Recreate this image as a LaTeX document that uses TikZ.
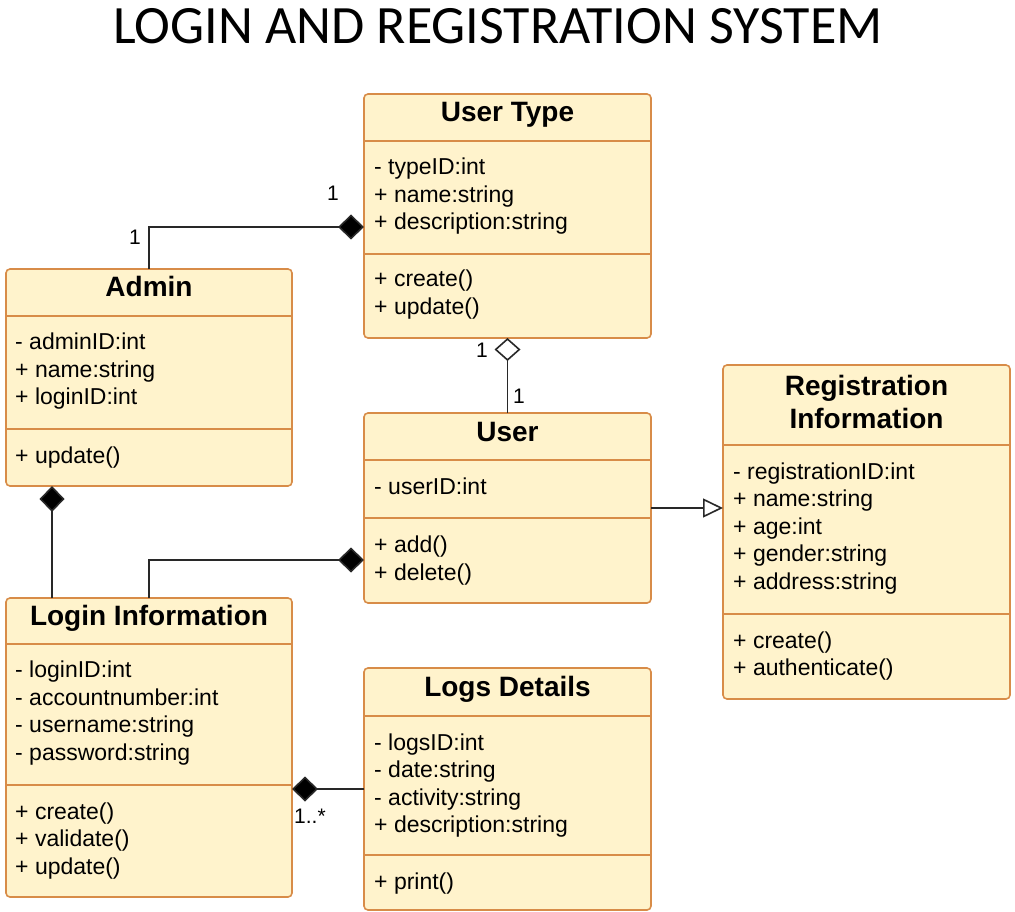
\documentclass[tikz,border=0pt]{standalone}
\usepackage{fontspec}
\setmainfont{Liberation Sans}
\newfontfamily\titlefont{Carlito}
\usetikzlibrary{arrows.meta}
\definecolor{clsfill}{RGB}{255,243,204}
\definecolor{clsdraw}{RGB}{216,140,72}
\definecolor{conn}{RGB}{40,40,40}
\begin{document}
\begin{tikzpicture}[x=1pt,y=-1pt,
  cls/.style={draw=clsdraw, fill=clsfill, line width=1.6pt, rounded corners=4pt, inner sep=0pt, outer sep=0pt, anchor=north west},
  divline/.style={draw=clsdraw, line width=1.6pt},
  hdr/.style={font=\fontsize{28}{32}\selectfont\bfseries, anchor=base, inner sep=0pt},
  attr/.style={font=\fontsize{23}{27}\selectfont, anchor=base west, inner sep=0pt},
  mult/.style={font=\fontsize{21}{25}\selectfont, anchor=base, inner sep=0pt},
  link/.style={draw=conn, line width=1.6pt},
  filldia/.style={-{Diamond[length=26pt,width=25pt,fill=black]}},
  hollowdia/.style={-{Diamond[length=23pt,width=26pt,fill=white]}},
  opentri/.style={-{Triangle[length=20pt,width=19pt,fill=white]}},
  ttl/.style={font=\titlefont\fontsize{54}{60}\selectfont, anchor=base, inner sep=0pt}
]
\useasboundingbox[fill=white] (0,0) rectangle (1015,912);

\node[ttl] (title) at (498,44) {LOGIN AND REGISTRATION SYSTEM};

% ---------- User Type ----------
\node[cls, minimum width=287pt, minimum height=244pt] (ut) at (364,94) {};
\draw[divline] (364,141) -- (651,141);
\draw[divline] (364,254) -- (651,254);
\node[hdr] (uth) at (507.5,122) {User Type};
\foreach \t [count=\i] in {- typeID:int, + name:string, + description:string}
  \node[attr] (uta\i) at (374,147.5+27.5*\i) {\t};
\foreach \t [count=\i] in {+ create(), + update()}
  \node[attr] (utm\i) at (374,260+27*\i) {\t};

% ---------- Admin ----------
\node[cls, minimum width=286pt, minimum height=217pt] (adm) at (6,269) {};
\draw[divline] (6,316) -- (292,316);
\draw[divline] (6,429) -- (292,429);
\node[hdr] (admh) at (149,297) {Admin};
\foreach \t [count=\i] in {- adminID:int, + name:string, + loginID:int}
  \node[attr] (adma\i) at (15,322+27.5*\i) {\t};
\node[attr] (admm1) at (15,463) {+ update()};

% ---------- User ----------
\node[cls, minimum width=287pt, minimum height=190pt] (usr) at (364,413) {};
\draw[divline] (364,460) -- (651,460);
\draw[divline] (364,518) -- (651,518);
\node[hdr] (usrh) at (507.5,441) {User};
\node[attr] (usra1) at (374,494) {- userID:int};
\foreach \t [count=\i] in {+ add(), + delete()}
  \node[attr] (usrm\i) at (374,525+27.5*\i) {\t};

% ---------- Registration Information ----------
\node[cls, minimum width=287pt, minimum height=334pt] (reg) at (723,365) {};
\draw[divline] (723,445) -- (1010,445);
\draw[divline] (723,614) -- (1010,614);
\node[hdr] (regh1) at (866.5,395) {Registration};
\node[hdr] (regh2) at (866.5,428) {Information};
\foreach \t [count=\i] in {- registrationID:int, + name:string, + age:int, + gender:string, + address:string}
  \node[attr] (rega\i) at (733,451.5+27.5*\i) {\t};
\foreach \t [count=\i] in {+ create(), + authenticate()}
  \node[attr] (regm\i) at (733,620.5+27.5*\i) {\t};

% ---------- Login Information ----------
\node[cls, minimum width=286pt, minimum height=299pt] (lg) at (6,598) {};
\draw[divline] (6,644) -- (292,644);
\draw[divline] (6,785) -- (292,785);
\node[hdr] (lgh) at (149,625) {Login Information};
\foreach \t [count=\i] in {- loginID:int, - accountnumber:int, - username:string, - password:string}
  \node[attr] (lga\i) at (15,650+27.5*\i) {\t};
\foreach \t [count=\i] in {+ create(), + validate(), + update()}
  \node[attr] (lgm\i) at (15,791.5+27.5*\i) {\t};

% ---------- Logs Details ----------
\node[cls, minimum width=287pt, minimum height=242pt] (lgd) at (364,668) {};
\draw[divline] (364,716) -- (651,716);
\draw[divline] (364,855) -- (651,855);
\node[hdr] (lgdh) at (507.5,696) {Logs Details};
\foreach \t [count=\i] in {- logsID:int, - date:string, - activity:string, + description:string}
  \node[attr] (lgda\i) at (374,722.5+27.5*\i) {\t};
\node[attr] (lgdm1) at (374,889) {+ print()};

% ---------- Connectors ----------
\draw[link, filldia] (adm.north) |- ([yshift=-11pt]ut.west);
\draw[link, hollowdia] (usr.north) -- (ut.south);
\draw[link, filldia] ([xshift=-97pt]lg.north) -- ([xshift=-97pt]adm.south);
\draw[link, filldia] (lg.north) |- ([yshift=-52pt]usr.west);
\draw[link, opentri] (usr.east) -- (reg.west |- usr.east);
\draw[link, filldia] (lgd.west) -- (lg.east |- lgd.west);

% ---------- Multiplicities ----------
\node[mult] (m1) at (135,244) {1};
\node[mult] (m2) at (333,201) {1};
\node[mult] (m3) at (482,357) {1};
\node[mult] (m4) at (519,403) {1};
\node[mult, anchor=base west] (m5) at (294,823) {1..*};
\end{tikzpicture}
\end{document}
